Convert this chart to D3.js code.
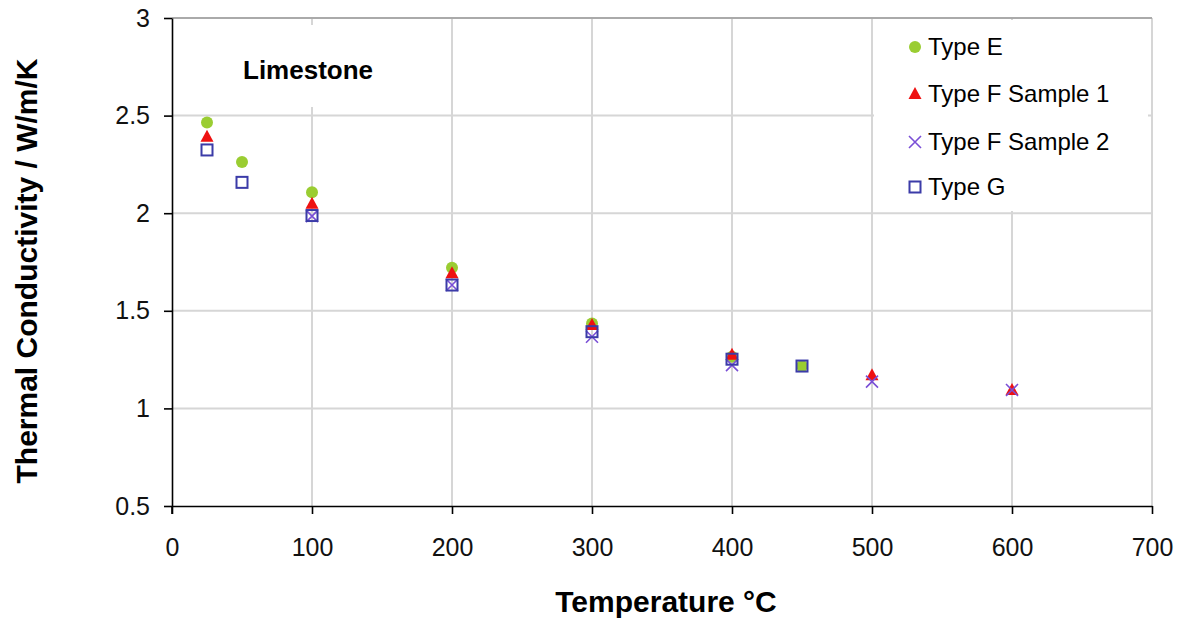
<!DOCTYPE html>
<html>
<head>
<meta charset="utf-8">
<script src="https://cdn.jsdelivr.net/npm/d3@7"></script>
<style>
  body { margin: 0; background: #fff; }
  text { font-family: "Liberation Sans", Arial, sans-serif; fill: #000; }
  .tick text { font-size: 25px; }
  .axis-title { font-size: 30px; font-weight: bold; }
</style>
</head>
<body>
<div id="my_dataviz"></div>
<script>
// series data (temperature in degC, conductivity in W/m/K)
var typeE = [[25, 2.465], [50, 2.262], [100, 2.107], [200, 1.72], [300, 1.435], [400, 1.265], [450, 1.217]];
var typeF1 = [[25, 2.392], [100, 2.048], [200, 1.692], [300, 1.427], [400, 1.275], [500, 1.17], [600, 1.094]];
var typeF2 = [[100, 1.985], [200, 1.632], [300, 1.367], [400, 1.222], [500, 1.137], [600, 1.094]];
var typeG = [[25, 2.324], [50, 2.158], [100, 1.988], [200, 1.632], [300, 1.393], [400, 1.252], [450, 1.217]];

var seriesNames = ["Type E", "Type F Sample 1", "Type F Sample 2", "Type G"];
var xTicks = [0, 100, 200, 300, 400, 500, 600, 700];
var yTicks = [0.5, 1, 1.5, 2, 2.5, 3];

var margin = { top: 18, right: 33, bottom: 115, left: 172 },
    width = 1185 - margin.left - margin.right,
    height = 621 - margin.top - margin.bottom;

var svg = d3.select("#my_dataviz")
    .append("svg")
    .attr("width", 1185)
    .attr("height", 621)
    .append("g")
    .attr("transform", "translate(" + margin.left + "," + margin.top + ")");

var x = d3.scaleLinear().domain([0, 700]).range([0, width]);
var y = d3.scaleLinear().domain([0.5, 3]).range([height, 0]);

// gridlines
svg.append("g")
    .selectAll("line.hgrid")
    .data(yTicks.slice(1))
    .enter()
    .append("line")
    .attr("x1", 0).attr("x2", width)
    .attr("y1", function (d) { return y(d); })
    .attr("y2", function (d) { return y(d); })
    .style("stroke", "#d6d6d6").style("stroke-width", 2);

svg.append("g")
    .selectAll("line.vgrid")
    .data(xTicks.slice(1))
    .enter()
    .append("line")
    .attr("x1", function (d) { return x(d); })
    .attr("x2", function (d) { return x(d); })
    .attr("y1", 0).attr("y2", height)
    .style("stroke", "#d6d6d6").style("stroke-width", 2);

// white boxes behind label and legend
svg.append("rect").attr("x", 63).attr("y", 7).attr("width", 155).attr("height", 82).style("fill", "#fff");
svg.append("rect").attr("x", 702).attr("y", 2).attr("width", 274).attr("height", 191).style("fill", "#fff");

// top border
svg.append("line").attr("x1", 0).attr("x2", width).attr("y1", 0).attr("y2", 0)
    .style("stroke", "#aaa").style("stroke-width", 2);

// axes
var xAxis = svg.append("g")
    .attr("transform", "translate(0," + height + ")")
    .call(d3.axisBottom(x).tickValues(xTicks).tickSize(8).tickPadding(24).tickSizeOuter(0));
var yAxis = svg.append("g")
    .call(d3.axisLeft(y).tickValues(yTicks).tickSize(8).tickPadding(14).tickSizeOuter(0)
        .tickFormat(function (d) { return d3.format("")(d); }));

[xAxis, yAxis].forEach(function (a) {
    a.select(".domain").style("stroke", "#000").style("stroke-width", 1.6);
    a.selectAll(".tick line").style("stroke", "#000").style("stroke-width", 1.6);
    a.selectAll(".tick text").style("font-family", "Liberation Sans, Arial, sans-serif").style("font-size", "25px").style("fill", "#111");
});
// y axis line extends to bottom tick
svg.append("line").attr("x1", 0).attr("x2", 0).attr("y1", height).attr("y2", height + 8)
    .style("stroke", "#000").style("stroke-width", 1.6);

// marker drawers
var colE = "#9acd32", colF1 = "#ee1111", colF2 = "#7a4fd6", colG = "#3b3ba8";

function drawCircle(g, cx, cy) {
    g.append("circle").attr("cx", cx).attr("cy", cy).attr("r", 6).style("fill", colE);
}
function drawTriangle(g, cx, cy) {
    g.append("path")
        .attr("d", "M" + cx + "," + (cy - 7) + "L" + (cx + 6.5) + "," + (cy + 5) + "L" + (cx - 6.5) + "," + (cy + 5) + "Z")
        .style("fill", colF1);
}
function drawCross(g, cx, cy) {
    g.append("path")
        .attr("d", "M" + (cx - 6) + "," + (cy - 6) + "L" + (cx + 6) + "," + (cy + 6) + "M" + (cx + 6) + "," + (cy - 6) + "L" + (cx - 6) + "," + (cy + 6))
        .style("stroke", colF2).style("stroke-width", 1.6).style("fill", "none");
}
function drawSquare(g, cx, cy) {
    g.append("rect").attr("x", cx - 5.5).attr("y", cy - 5.5).attr("width", 11).attr("height", 11)
        .style("fill", "none").style("stroke", colG).style("stroke-width", 2);
}

var drawers = [drawCircle, drawTriangle, drawCross, drawSquare];
var allSeries = [typeE, typeF1, typeF2, typeG];

var pts = svg.append("g");
allSeries.forEach(function (s, i) {
    s.forEach(function (d) {
        drawers[i](pts, x(d[0]), y(d[1]));
    });
});

// label
svg.append("text")
    .attr("x", 71).attr("y", 61)
    .style("font-size", "26px").style("font-weight", "bold")
    .text("Limestone");

// legend
var legendRows = [29, 76, 124, 169];
var legend = svg.append("g");
seriesNames.forEach(function (name, i) {
    drawers[i](legend, 743, legendRows[i]);
    legend.append("text")
        .attr("x", 756).attr("y", legendRows[i] + 8)
        .style("font-size", "24px")
        .text(name);
});

// axis titles
svg.append("text")
    .attr("class", "axis-title")
    .attr("text-anchor", "middle")
    .attr("x", 494)
    .attr("y", 594)
    .text("Temperature \u00B0C");

svg.append("text")
    .attr("class", "axis-title")
    .attr("text-anchor", "middle")
    .attr("transform", "rotate(-90)")
    .attr("x", -253)
    .attr("y", -135)
    .text("Thermal Conductivity / W/m/K");
</script>
</body>
</html>
